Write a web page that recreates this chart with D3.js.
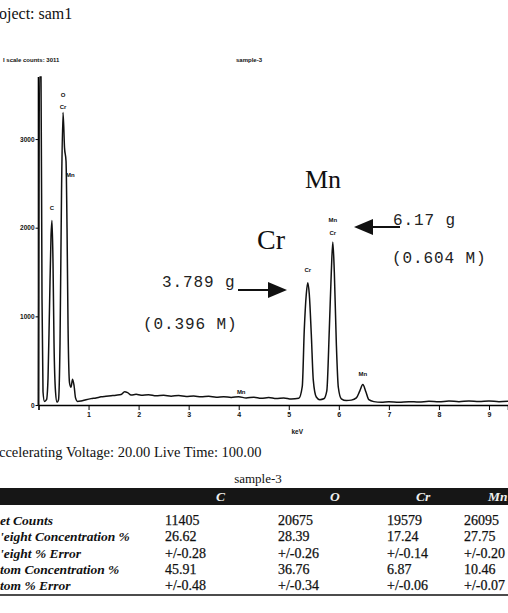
<!DOCTYPE html>
<html>
<head>
<meta charset="utf-8">
<script src="https://cdn.jsdelivr.net/npm/d3@7"></script>
<style>
  body { margin: 0; background: #fff; overflow: hidden; }
  svg { display: block; }
  text { fill: #111; }
</style>
</head>
<body>
<svg id="chart" width="508" height="613"></svg>
<script>
// spectrum (keV, counts)
const energies = [0.00, 0.02, 0.05, 0.07, 0.09, 0.12, 0.16, 0.19, 0.22, 0.25, 0.27, 0.29, 0.31, 0.34, 0.37,
  0.40, 0.43, 0.46, 0.49, 0.52, 0.55, 0.57, 0.59, 0.62, 0.65, 0.68, 0.71, 0.74, 0.78, 0.85,
  0.95, 1.05, 1.15, 1.25, 1.35, 1.45, 1.55, 1.65, 1.72, 1.78, 1.85, 1.95, 2.05, 2.2, 2.35,
  2.5, 2.65, 2.8, 2.95, 3.1, 3.25, 3.4, 3.55, 3.7, 3.85, 4.0, 4.15, 4.3, 4.45, 4.6,
  4.75, 4.9, 5.05, 5.2, 5.27, 5.31, 5.35, 5.38, 5.41, 5.45, 5.49, 5.55, 5.62, 5.7, 5.76,
  5.81, 5.85, 5.88, 5.91, 5.95, 5.99, 6.05, 6.15, 6.25, 6.35, 6.42, 6.48, 6.54, 6.6, 6.7,
  6.85, 7.0, 7.2, 7.4, 7.6, 7.8, 8.0, 8.2, 8.4, 8.6, 8.8, 9.0, 9.2, 9.4];
const counts = [0, 3700, 3700, 1200, 150, 40, 60, 300, 1100, 1900, 2080, 1600, 700, 150, 30,
  60, 700, 2400, 3300, 2900, 2750, 2000, 900, 250, 200, 290, 220, 80, 40, 45,
  60, 72, 80, 92, 98, 104, 110, 118, 150, 140, 112, 120, 110, 116, 104,
  110, 100, 106, 96, 102, 92, 98, 88, 94, 86, 92, 80, 88, 76, 84,
  72, 80, 68, 76, 210, 850, 1250, 1380, 1250, 800, 280, 90, 60, 70, 160,
  850, 1500, 1840, 1500, 700, 200, 70, 50, 55, 80, 160, 230, 150, 60, 38,
  30, 36, 30, 38, 34, 42, 36, 44, 38, 46, 40, 44, 38, 42];

const yTicks = [0, 1000, 2000, 3000];
const xTicks = [1, 2, 3, 4, 5, 6, 7, 8, 9];

// peak labels on the spectrum
const peakNames = ['C', 'O', 'Cr', 'Mn', 'Mn', 'Cr', 'Mn', 'Cr', 'Mn'];
const peakKeV = [0.27, 0.49, 0.49, 0.55, 4.05, 5.38, 5.88, 5.88, 6.48];
const peakAt = [2200, 3470, 3340, 2570, 120, 1500, 2060, 1920, 330];

// quantification table
const tableTitle = 'sample-3';
const elements = ['C', 'O', 'Cr', 'Mn'];
const rowNames = ['et Counts', '\'eight Concentration %', '\'eight % Error', 'tom Concentration %', 'tom % Error'];
const netCounts = ['11405', '20675', '19579', '26095'];
const weightConc = ['26.62', '28.39', '17.24', '27.75'];
const weightErr = ['+/-0.28', '+/-0.26', '+/-0.14', '+/-0.20'];
const atomConc = ['45.91', '36.76', '6.87', '10.46'];
const atomErr = ['+/-0.48', '+/-0.34', '+/-0.06', '+/-0.07'];

const svg = d3.select('#chart');
const serif = '"Liberation Serif", "Times New Roman", serif';
const tiny = '"Liberation Sans", Arial, sans-serif';
const mono = '"Liberation Mono", "Courier New", monospace';

// scales
const x = d3.scaleLinear().domain([0, 9.38]).range([38.5, 508]);
const y = d3.scaleLinear().domain([0, 3700]).range([405, 77]);

// header text
svg.append('text').attr('x', -1).attr('y', 19)
  .style('font-family', serif).style('font-size', '16px').text('oject: sam1');
svg.append('text').attr('x', 3).attr('y', 62)
  .style('font-family', tiny).style('font-size', '6px').style('font-weight', 'bold')
  .text('l scale counts: 3011');
svg.append('text').attr('x', 236).attr('y', 62)
  .style('font-family', tiny).style('font-size', '6px').style('font-weight', 'bold')
  .text('sample-3');

// axes
const yAxis = svg.append('g')
  .attr('transform', `translate(${x(0)},0)`)
  .call(d3.axisLeft(y).tickValues(yTicks).tickSize(3).tickFormat(d3.format('d')));
yAxis.select('.domain').attr('d', `M0,${y(0)}V${y(3700)}`).attr('stroke-width', 1.6);
yAxis.selectAll('text')
  .style('font-family', tiny).style('font-size', '6.5px').style('font-weight', 'bold').attr('x', -4);

const xAxis = svg.append('g')
  .attr('transform', `translate(0,${y(0)})`)
  .call(d3.axisBottom(x).tickValues(xTicks).tickSize(5).tickFormat(d3.format('d')));
xAxis.select('.domain').attr('stroke-width', 1.6);
xAxis.selectAll('text')
  .style('font-family', tiny).style('font-size', '7px').style('font-weight', 'bold').attr('y', 7);

svg.append('text').attr('x', x(5.17)).attr('y', 434).attr('text-anchor', 'middle')
  .style('font-family', tiny).style('font-size', '6.5px').style('font-weight', 'bold').text('keV');

// spectrum
const pts = energies.map((e, i) => [e, counts[i]]);
const line = d3.line().x(d => x(d[0])).y(d => y(d[1])).curve(d3.curveMonotoneX);
svg.append('path').datum(pts)
  .attr('d', line)
  .attr('fill', 'none').attr('stroke', '#111').attr('stroke-width', 1.5);

// peak labels
svg.selectAll('.peak-label')
  .data(peakNames)
  .enter().append('text')
  .attr('class', 'peak-label')
  .attr('x', (d, i) => x(peakKeV[i]))
  .attr('y', (d, i) => y(peakAt[i]))
  .attr('text-anchor', (d, i) => i === 3 ? 'start' : 'middle')
  .style('font-family', tiny).style('font-size', '6px').style('font-weight', 'bold')
  .text(d => d);

// annotations
svg.append('text').attr('x', 305).attr('y', 188)
  .style('font-family', serif).style('font-size', '26px').text('Mn');
svg.append('text').attr('x', 257).attr('y', 249)
  .style('font-family', serif).style('font-size', '28px').text('Cr');

const annot = [
  { t: '6.17 g', x: 393, y: 225 },
  { t: '(0.604 M)', x: 392, y: 263 },
  { t: '3.789 g', x: 162, y: 287 },
  { t: '(0.396 M)', x: 143, y: 329 }
];
svg.selectAll('.annot').data(annot).enter().append('text')
  .attr('class', 'annot')
  .attr('x', d => d.x).attr('y', d => d.y)
  .style('font-family', mono).style('font-size', '16px').style('letter-spacing', '0.9px')
  .style('fill', '#222')
  .text(d => d.t);

// arrows
svg.append('line').attr('x1', 238).attr('y1', 290).attr('x2', 270).attr('y2', 290)
  .attr('stroke', '#111').attr('stroke-width', 2);
svg.append('path').attr('d', 'M268,282L287,290L268,298Z').attr('fill', '#111');
svg.append('line').attr('x1', 368).attr('y1', 227).attr('x2', 400).attr('y2', 227)
  .attr('stroke', '#111').attr('stroke-width', 2);
svg.append('path').attr('d', 'M373,219L354,227L373,235Z').attr('fill', '#111');

// acquisition line
svg.append('text').attr('x', -1).attr('y', 457)
  .style('font-family', serif).style('font-size', '14.5px')
  .text('ccelerating Voltage: 20.00  Live Time: 100.00');

// table
svg.append('text').attr('x', 258).attr('y', 483).attr('text-anchor', 'middle')
  .style('font-family', serif).style('font-size', '13px').text(tableTitle);

svg.append('rect').attr('x', 0).attr('y', 488).attr('width', 508).attr('height', 17)
  .attr('fill', '#161616');

const colX = d3.scaleOrdinal().domain(elements).range([165, 278, 387, 464]);
const headX = d3.scaleOrdinal().domain(elements).range([216, 330, 416, 488]);

svg.selectAll('.col-head').data(elements).enter().append('text')
  .attr('class', 'col-head')
  .attr('x', d => headX(d)).attr('y', 501)
  .style('font-family', serif).style('font-size', '13.5px')
  .style('font-style', 'italic').style('font-weight', 'bold').style('fill', '#eee')
  .text(d => d);

const rows = [netCounts, weightConc, weightErr, atomConc, atomErr];
const rowY = d3.scalePoint().domain(d3.range(rows.length)).range([525, 590]);

rows.forEach((vals, r) => {
  svg.append('text').attr('x', 0).attr('y', rowY(r))
    .style('font-family', serif).style('font-size', '13.5px')
    .style('font-style', 'italic').style('font-weight', 'bold')
    .text(rowNames[r]);
  svg.selectAll(`.row-${r}`).data(vals).enter().append('text')
    .attr('class', `row-${r}`)
    .attr('x', (d, i) => colX(elements[i])).attr('y', rowY(r))
    .style('font-family', serif).style('font-size', '14px')
    .style('stroke', '#111').style('stroke-width', 0.25)
    .text(d => d);
});

svg.append('line').attr('x1', 0).attr('x2', 508).attr('y1', 595).attr('y2', 595)
  .attr('stroke', '#111').attr('stroke-width', 1.5);
</script>
</body>
</html>
